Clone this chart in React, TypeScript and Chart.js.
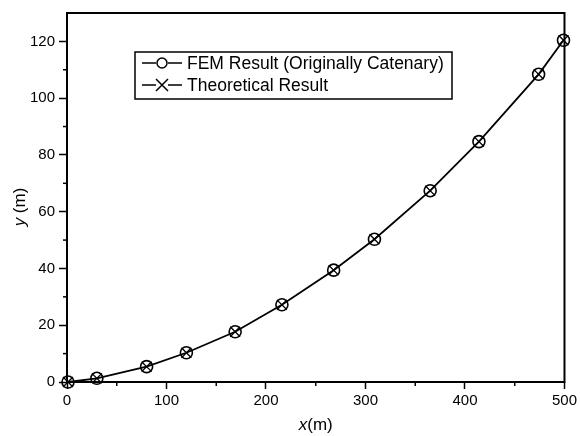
import React, { useEffect, useRef } from "react";
import { Chart, registerables } from "chart.js";

Chart.register(...registerables);

const xValues = [1, 30, 80, 120, 169, 216, 268, 309, 365, 414, 474, 499];
const femY = [0, 1.3, 5.4, 10.3, 17.7, 27.2, 39.4, 50.3, 67.4, 84.7, 108.4, 120.4];
const theoryY = [0, 1.3, 5.4, 10.3, 17.7, 27.2, 39.4, 50.3, 67.4, 84.7, 108.4, 120.4];
const legendLabels = ["FEM Result (Originally Catenary)", "Theoretical Result"];
const xTitle = ["x", "(m)"];
const yTitle = ["y", " (m)"];

const FONT = "'Liberation Sans', Arial, sans-serif";

const framePlugin = {
  id: "frame",
  afterDatasetsDraw(chart: any) {
    const { ctx, chartArea: a, scales } = chart;
    ctx.save();
    ctx.strokeStyle = "#000";
    ctx.lineWidth = 2;
    ctx.strokeRect(a.left, a.top, a.right - a.left, a.bottom - a.top);
    // minor ticks
    ctx.lineWidth = 1.5;
    const xs = scales.x;
    for (let v = 50; v < 500; v += 100) {
      const px = xs.getPixelForValue(v);
      ctx.beginPath();
      ctx.moveTo(px, a.bottom);
      ctx.lineTo(px, a.bottom + 4);
      ctx.stroke();
    }
    const ys = scales.y;
    for (let v = 10; v < 130; v += 20) {
      const py = ys.getPixelForValue(v);
      ctx.beginPath();
      ctx.moveTo(a.left, py);
      ctx.lineTo(a.left - 4, py);
      ctx.stroke();
    }
    // axis titles
    ctx.fillStyle = "#000";
    ctx.textBaseline = "middle";
    const cx = (a.left + a.right) / 2;
    ctx.font = `italic 17px ${FONT}`;
    const w1 = ctx.measureText(xTitle[0]).width;
    ctx.font = `17px ${FONT}`;
    const w2 = ctx.measureText(xTitle[1]).width;
    let sx = cx - (w1 + w2) / 2;
    ctx.font = `italic 17px ${FONT}`;
    ctx.textAlign = "left";
    ctx.fillText(xTitle[0], sx, 425);
    ctx.font = `17px ${FONT}`;
    ctx.fillText(xTitle[1], sx + w1, 425);

    ctx.save();
    ctx.translate(20, 207);
    ctx.rotate(-Math.PI / 2);
    ctx.font = `italic 17px ${FONT}`;
    const h1 = ctx.measureText(yTitle[0]).width;
    ctx.font = `17px ${FONT}`;
    const h2 = ctx.measureText(yTitle[1]).width;
    sx = -(h1 + h2) / 2;
    ctx.font = `italic 17px ${FONT}`;
    ctx.fillText(yTitle[0], sx, 0);
    ctx.font = `17px ${FONT}`;
    ctx.fillText(yTitle[1], sx + h1, 0);
    ctx.restore();

    // legend
    const lx = 135, ly = 52, lw = 317, lh = 47;
    ctx.fillStyle = "#fff";
    ctx.fillRect(lx, ly, lw, lh);
    ctx.lineWidth = 1.5;
    ctx.strokeStyle = "#000";
    ctx.strokeRect(lx, ly, lw, lh);
    const rows = [63, 85];
    ctx.font = `17.5px ${FONT}`;
    ctx.fillStyle = "#000";
    rows.forEach((ry, i) => {
      ctx.lineWidth = 1.5;
      ctx.beginPath();
      ctx.moveTo(142, ry);
      ctx.lineTo(156, ry);
      ctx.moveTo(168, ry);
      ctx.lineTo(182, ry);
      ctx.stroke();
      if (i === 0) {
        ctx.beginPath();
        ctx.arc(162, ry, 5, 0, Math.PI * 2);
        ctx.stroke();
      } else {
        ctx.beginPath();
        ctx.moveTo(156, ry - 6);
        ctx.lineTo(168, ry + 6);
        ctx.moveTo(156, ry + 6);
        ctx.lineTo(168, ry - 6);
        ctx.stroke();
      }
      ctx.textAlign = "left";
      ctx.fillText(legendLabels[i], 187, ry + 1);
    });
    ctx.restore();
  },
};

export default function App() {
  const ref = useRef<HTMLCanvasElement>(null);
  useEffect(() => {
    if (!ref.current) return;
    const chart = new Chart(ref.current, {
      type: "scatter",
      data: {
        datasets: [
          {
            label: legendLabels[1],
            data: xValues.map((x, i) => ({ x, y: theoryY[i] })),
            showLine: true,
            borderColor: "#000",
            borderWidth: 1.8,
            pointStyle: "crossRot",
            pointRadius: 7,
            pointBorderWidth: 1.3,
            pointBorderColor: "#000",
            pointBackgroundColor: "transparent",
            clip: false as any,
          },
          {
            label: legendLabels[0],
            data: xValues.map((x, i) => ({ x, y: femY[i] })),
            showLine: false,
            borderColor: "#000",
            pointStyle: "circle",
            pointRadius: 6,
            pointBorderWidth: 1.6,
            pointBorderColor: "#000",
            pointBackgroundColor: "transparent",
            clip: false as any,
          },
        ],
      },
      options: {
        animation: false,
        responsive: false,
        layout: { padding: { left: 0, right: 13, top: 10, bottom: 0 } },
        plugins: { legend: { display: false }, tooltip: { enabled: false } },
        scales: {
          x: {
            type: "linear",
            min: 0,
            max: 500,
            border: { display: false },
            grid: { drawOnChartArea: false, tickLength: 7, tickWidth: 1.5, tickColor: "#000" },
            ticks: { stepSize: 100, color: "#000", font: { family: FONT, size: 15 }, padding: 3, maxRotation: 0 },
            afterFit: (s: any) => { s.height = 54; },
          },
          y: {
            type: "linear",
            min: 0,
            max: 130,
            border: { display: false },
            grid: { drawOnChartArea: false, tickLength: 8, tickWidth: 1.5, tickColor: "#000" },
            ticks: {
              stepSize: 20,
              includeBounds: false,
              color: "#000",
              font: { family: FONT, size: 15 },
              padding: 4,
            },
            afterFit: (s: any) => { s.width = 67; },
          },
        },
      },
      plugins: [framePlugin],
    });
    return () => chart.destroy();
  }, []);
  return (
    <div style={{ position: "absolute", left: 0, top: 0, width: 580, height: 436, background: "#fff" }}>
      <canvas ref={ref} width={580} height={436} style={{ width: 580, height: 436 }} />
    </div>
  );
}
